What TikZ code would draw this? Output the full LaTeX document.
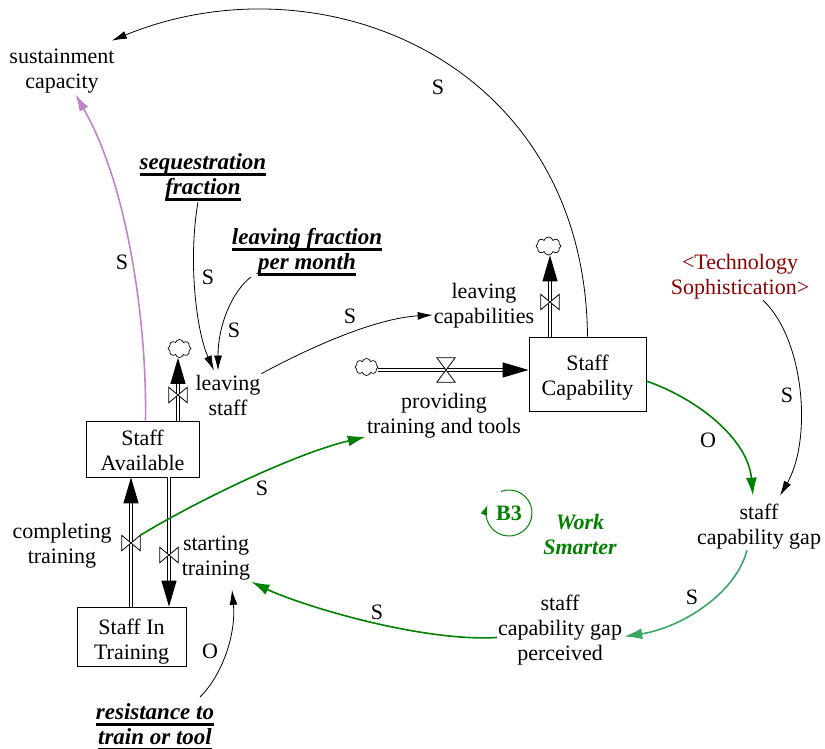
\documentclass[tikz,border=0pt]{standalone}
\usepackage{fontspec}
\setmainfont{Liberation Serif}
\usetikzlibrary{arrows.meta,shapes.symbols}
\definecolor{dgreen}{RGB}{0,128,0}
\definecolor{lgreen}{RGB}{60,165,100}
\definecolor{plumlink}{RGB}{195,130,200}
\definecolor{dred}{RGB}{140,0,0}
% thick underline used for the constant (parameter) names
\newcommand\ulbi[1]{\setbox0\hbox{#1}\rlap{\vrule height -4pt depth 6.5pt width \wd0}\box0}
\begin{document}
\begin{tikzpicture}[x=1pt,y=-1pt,
  font=\fontsize{22}{25}\selectfont,
  txt/.style={align=center, inner sep=1pt},
  param/.style={txt, font=\fontsize{23}{25}\selectfont\bfseries\itshape},
  stock/.style={draw, line width=0.8pt, align=center, inner sep=0pt},
  cloudn/.style={cloud, cloud puffs=8, draw, line width=0.7pt, inner sep=0pt, aspect=1.3},
  valve/.style={inner sep=0pt, minimum width=18pt, minimum height=15pt},
  hvalve/.style={inner sep=0pt, minimum width=18pt, minimum height=24pt},
  valveline/.style={draw, fill=white, line width=0.8pt},
  pipe/.style={draw, line width=1pt, double=white, double distance=2.8pt,
    -{Triangle[length=26pt,width=15pt]}},
  causal/.style={line width=0.8pt, -{Latex[length=15pt,width=8pt]}},
  gcausal/.style={draw=dgreen, line width=1.6pt, -{Latex[length=18pt,width=11pt]}},
  pol/.style={inner sep=0pt}]
\useasboundingbox (0,0) rectangle (825,749);

% stocks
\node[stock, minimum width=117pt, minimum height=74pt] (SCap) at (587.5,374) {\rule{0pt}{23pt}Staff\\Capability};
\node[stock, minimum width=113pt, minimum height=56pt] (SAvail) at (142.5,449) {\rule{0pt}{18pt}Staff\\Available};
\node[stock, minimum width=109pt, minimum height=59pt] (STrain) at (131.5,636.5) {\rule{0pt}{25pt}Staff In\\Training};

% clouds
\node[cloudn, minimum width=23pt, minimum height=18pt] (cl1) at (179.5,348.5) {};
\node[cloudn, minimum width=25pt, minimum height=18pt] (cl2) at (548.5,246) {};
\node[cloudn, minimum width=23pt, minimum height=17pt] (cl3) at (366.5,367) {};

% valves
\node[valve] (v1) at (178,395) {};
\node[valve] (v2) at (550,302) {};
\node[hvalve] (v3) at (446,370) {};
\node[valve] (v4) at (131,543) {};
\node[valve] (v5) at (169,555) {};

% variables
\node[txt] (sust) at (62,71) {sustainment\\capacity};
\node[param] (seq) at (203,177) {\ulbi{sequestration}\\\ulbi{fraction}};
\node[param] (lfrac) at (307,252) {\ulbi{leaving fraction}\\\ulbi{per month}};
\node[txt] (lstaff) at (228,395) {leaving\\staff};
\node[txt] (lcap) at (484,306) {leaving\\capabilities};
\node[txt, text=dred] (tech) at (740,276.5) {<Technology\\Sophistication>};
\node[txt] (ptt) at (444,416) {providing\\training and tools};
\node[txt] (ctrain) at (62,546) {completing\\training};
\node[txt] (strain) at (216,558.5) {starting\\training};
\node[txt] (scg) at (759,526.5) {staff\\capability gap};
\node[txt] (scgp) at (560,630.5) {staff\\capability gap\\perceived};
\node[param] (resist) at (155,727) {\ulbi{resistance to}\\\ulbi{train or tool}};

% pipes
\draw[pipe] (SAvail.north -| v1) -- (v1 |- cl1.south);
\draw[pipe] (SCap.north -| v2) -- (v2 |- cl2.south);
\draw[pipe] (cl3.east |- v3) -- (SCap.west |- v3);
\draw[pipe] (STrain.north -| v4) -- (SAvail.south -| v4);
\draw[pipe] (SAvail.south -| v5) -- (STrain.north -| v5);

% valve bow-ties
\foreach \v in {v1,v2,v4,v5}
  \draw[valveline] (\v.north west) -- (\v.south east) -- (\v.north east) -- (\v.south west) -- cycle;
\draw[valveline] (v3.north west) -- (v3.south east) -- (v3.south west) -- (v3.north east) -- cycle;

% causal links
\draw[causal] (SCap.north) .. controls (585,60) and (320,-45) .. ([xshift=-4pt,yshift=7pt]sust.north east);
\draw[causal, draw=plumlink, line width=1.6pt, -{Latex[length=17pt,width=10pt]}]
  ([xshift=3pt]SAvail.north) .. controls (147,330) and (130,190) .. (sust.-60);
\draw[causal] ([xshift=-5pt]seq.south) .. controls (188,260) and (196,330) .. ([xshift=-14pt,yshift=3pt]lstaff.north);
\draw[causal] ([xshift=20pt]lfrac.south west) .. controls (232,292) and (218,325) .. ([xshift=-10pt,yshift=3pt]lstaff.north);
\draw[causal] (lstaff.north east) .. controls (320,342) and (380,318) .. ([yshift=-9pt]lcap.west);
\draw[gcausal] (v4.north east) .. controls (190,505) and (290,455) .. ([yshift=3pt]ptt.south west);
\draw[gcausal] ([yshift=-7pt]SCap.east) .. controls (700,400) and (748,440) .. ([xshift=-6pt,yshift=7pt]scg.north);
\draw[causal] ([xshift=23pt]tech.south) .. controls (805,340) and (812,440) .. ([xshift=21pt,yshift=7pt]scg.north);
\draw[gcausal, draw=lgreen] ([xshift=-12pt]scg.south) .. controls (735,595) and (680,628) .. ([xshift=1pt,yshift=-6pt]scgp.east);
\draw[gcausal] ([yshift=-7pt]scgp.west) .. controls (420,642) and (300,605) .. (strain.south east);
\draw[causal] ([xshift=45pt,yshift=5pt]resist.north) .. controls (225,672) and (236,630) .. ([xshift=16pt,yshift=-8pt]strain.south);

% polarity labels
\node[pol] (p1) at (438,87) {S};
\node[pol] (p2) at (122,262) {S};
\node[pol] (p3) at (208,277) {S};
\node[pol] (p4) at (234,330) {S};
\node[pol] (p5) at (350,316) {S};
\node[pol] (p6) at (262,488) {S};
\node[pol] (p7) at (708,440) {O};
\node[pol] (p8) at (787,395) {S};
\node[pol] (p9) at (692,597) {S};
\node[pol] (p10) at (377,612) {S};
\node[pol] (p11) at (210,651) {O};

% balancing loop B3
\node[inner sep=0pt, text=dgreen, font=\fontsize{22}{25}\selectfont\bfseries] (b3) at (509,513) {B3};
\draw[dgreen, line width=1pt, -{Latex[length=10pt,width=7pt]}]
  ([shift={(-110:23)}]b3.center) arc[start angle=-110, end angle=200, radius=23];
\node[txt, text=dgreen, font=\fontsize{22}{25}\selectfont\bfseries\itshape] (work) at (580,534) {Work\\Smarter};
\end{tikzpicture}
\end{document}
